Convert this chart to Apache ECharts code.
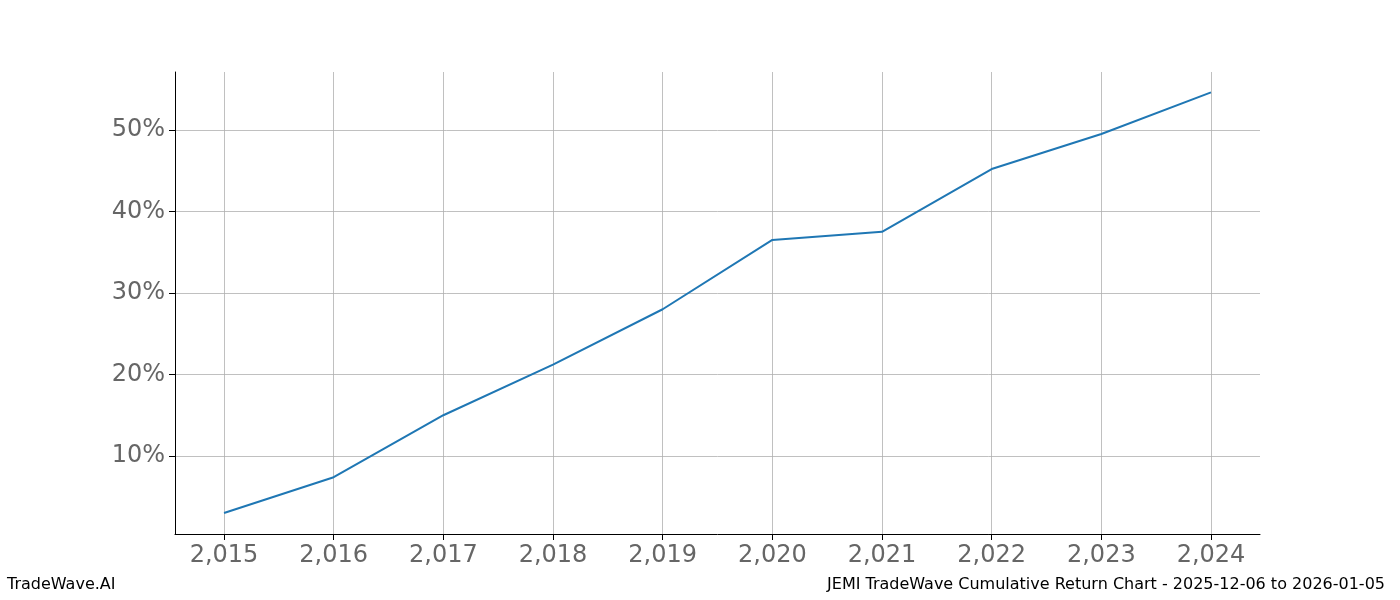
<!DOCTYPE html>
<html><head><meta charset="utf-8">
<script src="https://cdn.jsdelivr.net/npm/echarts@6/dist/echarts.min.js"></script>
<style>html,body{margin:0;padding:0;background:#fff}#c{width:1400px;height:600px}</style>
</head><body><div id="c"></div>
<script>
var years = [2015, 2016, 2017, 2018, 2019, 2020, 2021, 2022, 2023, 2024];
var returns = [3.0, 7.4, 15.0, 21.2, 28.0, 36.5, 37.5, 45.2, 49.5, 54.6];
var yTicks = [10, 20, 30, 40, 50];

var chart = echarts.init(document.getElementById('c'));
var font = 'DejaVu Sans';
chart.setOption({
  animation: false,
  textStyle: {fontFamily: font},
  grid: {left: 175, right: 140, top: 72, bottom: 66},
  graphic: [
    {type: 'text', left: 7, top: 577, style: {text: 'TradeWave.AI', font: '16px ' + font, fill: '#000'}},
    {type: 'text', right: 15, top: 577, style: {text: 'JEMI TradeWave Cumulative Return Chart - 2025-12-06 to 2026-01-05', font: '16px ' + font, fill: '#000'}}
  ],
  xAxis: {
    type: 'value', min: 2014.553, max: 2024.447,
    axisLine: {show: true, onZero: false, lineStyle: {color: '#000'}},
    axisTick: {show: true, customValues: years, length: 6, lineStyle: {color: '#000'}},
    axisLabel: {customValues: years, fontSize: 24, color: '#666', margin: 10, fontFamily: font},
    splitLine: {show: true, lineStyle: {color: '#b0b0b0', width: 0.8}}
  },
  yAxis: {
    type: 'value', min: 0.43, max: 57.1,
    axisLine: {show: true, onZero: false, lineStyle: {color: '#000'}},
    axisTick: {show: true, customValues: yTicks, length: 6, lineStyle: {color: '#000'}},
    axisLabel: {customValues: yTicks, fontSize: 24, color: '#666', margin: 10, fontFamily: font,
      formatter: function (v) { return v + '%'; }},
    splitLine: {show: true, lineStyle: {color: '#b0b0b0', width: 0.8}}
  },
  series: [{
    type: 'line', showSymbol: false,
    data: years.map(function (y, i) { return [y, returns[i]]; }),
    lineStyle: {color: '#1f77b4', width: 2}
  }]
});
</script></body></html>
